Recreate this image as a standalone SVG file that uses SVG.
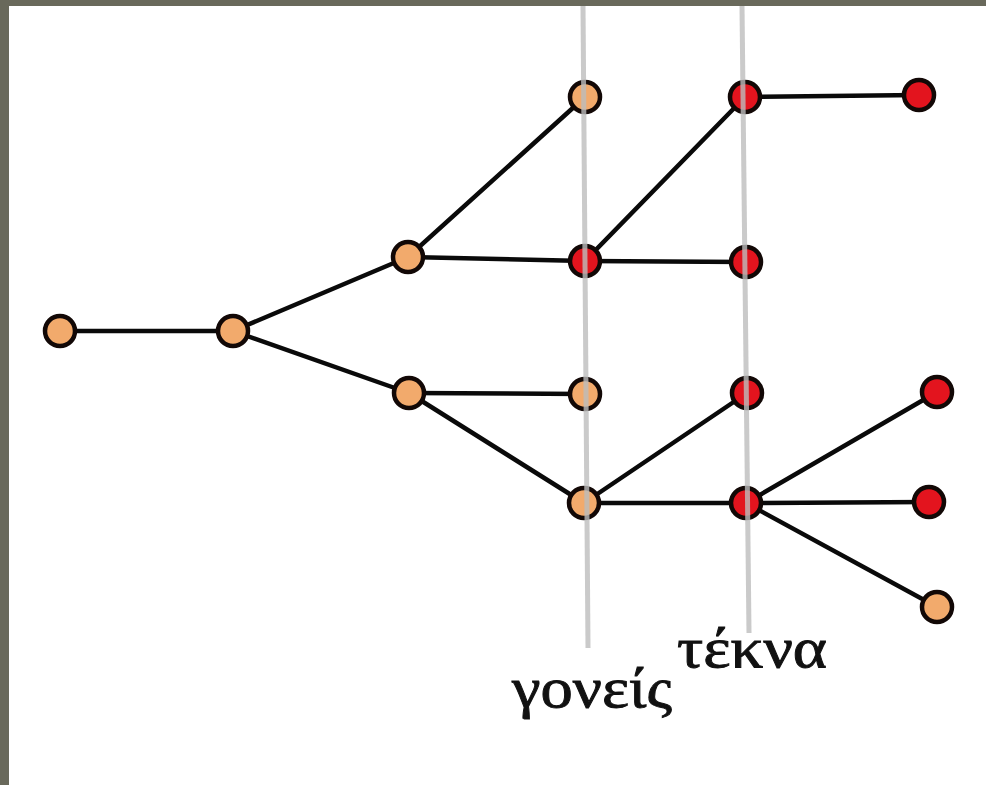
<svg xmlns="http://www.w3.org/2000/svg" width="986" height="785" viewBox="0 0 986 785">
  <style>
    .edge { stroke: #0a0a0a; stroke-width: 4.5; stroke-linecap: round; fill: none; }
    .node { stroke: #120806; stroke-width: 4.5; }
    .light { fill: #f2aa6c; }
    .dark { fill: #e3141e; }
    .guide { stroke: #bdbdbd; stroke-width: 5; opacity: 0.8; }
    .label { font-family: "Liberation Serif", "DejaVu Serif", serif; font-size: 56px; fill: #111; stroke: #111; stroke-width: 0.9; }
  </style>
  <!-- frame -->
  <rect x="0" y="0" width="986" height="785" fill="#ffffff"/>
  <rect x="0" y="0" width="986" height="6" fill="#69695b"/>
  <rect x="0" y="0" width="9" height="785" fill="#69695b"/>

  <g id="connectors">
    <line class="edge" x1="60" y1="331" x2="233" y2="331"/>
    <line class="edge" x1="233" y1="331" x2="408" y2="257"/>
    <line class="edge" x1="233" y1="331" x2="409" y2="393"/>
    <line class="edge" x1="408" y1="257" x2="585" y2="97"/>
    <line class="edge" x1="408" y1="257" x2="585" y2="261"/>
    <line class="edge" x1="409" y1="393" x2="585" y2="394"/>
    <line class="edge" x1="409" y1="393" x2="584" y2="503"/>
    <line class="edge" x1="585" y1="261" x2="745" y2="97"/>
    <line class="edge" x1="585" y1="261" x2="746" y2="262"/>
    <line class="edge" x1="584" y1="503" x2="747" y2="393"/>
    <line class="edge" x1="584" y1="503" x2="746" y2="503"/>
    <line class="edge" x1="745" y1="97" x2="919" y2="95"/>
    <line class="edge" x1="746" y1="503" x2="937" y2="392"/>
    <line class="edge" x1="746" y1="503" x2="929" y2="502"/>
    <line class="edge" x1="746" y1="503" x2="937" y2="607"/>
  </g>

  <g id="n-root"><circle class="node light" cx="60" cy="331" r="15"/></g>
  <g id="n-b"><circle class="node light" cx="233" cy="331" r="15"/></g>
  <g id="n-c"><circle class="node light" cx="408" cy="257" r="15"/></g>
  <g id="n-d"><circle class="node light" cx="409" cy="393" r="15"/></g>
  <g id="n-e"><circle class="node light" cx="585" cy="97" r="15"/></g>
  <g id="n-f"><circle class="node dark" cx="585" cy="261" r="15"/></g>
  <g id="n-g"><circle class="node light" cx="585" cy="394" r="15"/></g>
  <g id="n-h"><circle class="node light" cx="584" cy="503" r="15"/></g>
  <g id="n-i"><circle class="node dark" cx="745" cy="97" r="15"/></g>
  <g id="n-j"><circle class="node dark" cx="746" cy="262" r="15"/></g>
  <g id="n-k"><circle class="node dark" cx="747" cy="393" r="15"/></g>
  <g id="n-l"><circle class="node dark" cx="746" cy="503" r="15"/></g>
  <g id="n-m"><circle class="node dark" cx="919" cy="95" r="15"/></g>
  <g id="n-n"><circle class="node dark" cx="937" cy="392" r="15"/></g>
  <g id="n-o"><circle class="node dark" cx="929" cy="502" r="15"/></g>
  <g id="n-p"><circle class="node light" cx="937" cy="607" r="15"/></g>

  <!-- generation guides -->
  <g id="guides">
    <line class="guide" x1="583" y1="6" x2="588" y2="648"/>
    <line class="guide" x1="742" y1="6" x2="749" y2="633"/>
  </g>

  <g id="labels">
    <text class="label" x="677" y="667" textLength="150" lengthAdjust="spacingAndGlyphs">τέκνα</text>
    <text class="label" x="512" y="707" textLength="160" lengthAdjust="spacingAndGlyphs">γονείς</text>
  </g>
</svg>
